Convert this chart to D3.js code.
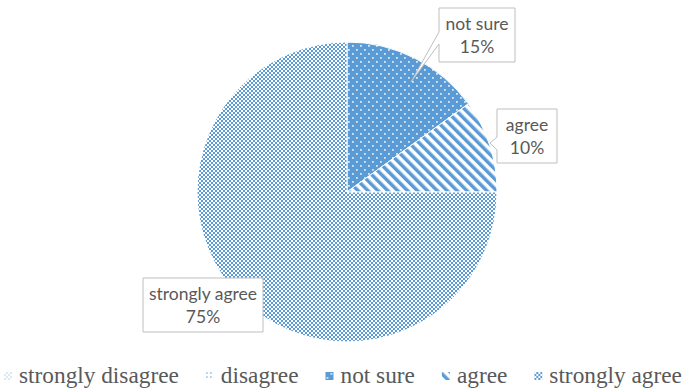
<!DOCTYPE html>
<html>
<head>
<meta charset="utf-8">
<script src="https://cdn.jsdelivr.net/npm/d3@7/dist/d3.min.js"></script>
<style>
  html, body { margin: 0; padding: 0; background: #fff; }
  svg { display: block; }
</style>
</head>
<body>
<svg id="chart" width="686" height="391"></svg>
<script>
// ---- data ----
const categories = ["strongly disagree", "disagree", "not sure", "agree", "strongly agree"];
const values = [0, 0, 15, 10, 75];

// ---- layout ----
const W = 686, H = 391;
const cx = 347, cy = 192, R = 150;
const blue = "#5B9BD5";
const textColor = "#595959";
const labelFont = "Lato, 'Open Sans', sans-serif";
const labelSize = 17.5;

const svg = d3.select("#chart");
const defs = svg.append("defs");

// patterns
function checker(id, color, size) {
  const p = defs.append("pattern").attr("id", id).attr("patternUnits", "userSpaceOnUse")
    .attr("width", size * 2).attr("height", size * 2);
  p.append("rect").attr("width", size * 2).attr("height", size * 2).attr("fill", color);
  p.append("rect").attr("x", 0).attr("y", 0).attr("width", size).attr("height", size).attr("fill", "#fff");
  p.append("rect").attr("x", size).attr("y", size).attr("width", size).attr("height", size).attr("fill", "#fff");
}
checker("pat-sa", blue, 2);
checker("pat-sd", "#dce7f3", 2);

const pd = defs.append("pattern").attr("id", "pat-dis").attr("patternUnits", "userSpaceOnUse")
  .attr("width", 4).attr("height", 4);
pd.append("rect").attr("width", 4).attr("height", 4).attr("fill", "#fff");
pd.append("rect").attr("width", 2).attr("height", 2).attr("fill", "#b9d2ec");

const pns = defs.append("pattern").attr("id", "pat-ns").attr("patternUnits", "userSpaceOnUse")
  .attr("width", 8).attr("height", 8);
pns.append("rect").attr("width", 8).attr("height", 8).attr("fill", blue);
pns.append("rect").attr("x", 1).attr("y", 1).attr("width", 1.8).attr("height", 1.8).attr("fill", "#d9e8f6");
pns.append("rect").attr("x", 5).attr("y", 5).attr("width", 1.8).attr("height", 1.8).attr("fill", "#d9e8f6");

const pag = defs.append("pattern").attr("id", "pat-ag").attr("patternUnits", "userSpaceOnUse")
  .attr("width", 7).attr("height", 7).attr("patternTransform", "rotate(-45)");
pag.append("rect").attr("width", 7).attr("height", 7).attr("fill", "#fff");
pag.append("rect").attr("width", 3.5).attr("height", 7).attr("fill", blue);

const fills = {
  "strongly disagree": "url(#pat-sd)",
  "disagree": "url(#pat-dis)",
  "not sure": "url(#pat-ns)",
  "agree": "url(#pat-ag)",
  "strongly agree": "url(#pat-sa)"
};

// pie
const data = categories.map((c, i) => ({ category: c, value: values[i] }));
const total = d3.sum(values);
const pie = d3.pie().value(d => d.value).sort(null).startAngle(0).endAngle(2 * Math.PI);
const arcs = pie(data);
const arc = d3.arc().innerRadius(0).outerRadius(R);

const g = svg.append("g").attr("transform", `translate(${cx},${cy})`);
g.selectAll("path.slice")
  .data(arcs.filter(d => d.value > 0))
  .join("path")
  .attr("class", "slice")
  .attr("d", arc)
  .attr("fill", d => fills[d.data.category])
  .attr("stroke", "#fff")
  .attr("stroke-width", 1);

// data labels (callouts) - box geometry in page coordinates
const labelLayout = {
  "not sure":       { x: 439, y: 8,   w: 76,  h: 54, wedge: { y1: 32, y2: 44, tip: [411, 82] } },
  "agree":          { x: 497, y: 109, w: 60,  h: 54, wedge: { y1: 137, y2: 150, tip: [490, 143] } },
  "strongly agree": { x: 143, y: 278, w: 120, h: 54, wedge: null }
};

const labels = svg.append("g");
arcs.filter(d => d.value > 0).forEach(d => {
  const L = labelLayout[d.data.category];
  if (!L) return;
  let p;
  if (L.wedge) {
    p = `M${L.x},${L.y}H${L.x + L.w}V${L.y + L.h}H${L.x}V${L.wedge.y2}L${L.wedge.tip[0]},${L.wedge.tip[1]}L${L.x},${L.wedge.y1}Z`;
  } else {
    p = `M${L.x},${L.y}H${L.x + L.w}V${L.y + L.h}H${L.x}Z`;
  }
  labels.append("path").attr("d", p).attr("fill", "#fff").attr("stroke", "#bfbfbf").attr("stroke-width", 1);
  const t = labels.append("text")
    .attr("x", L.x + L.w / 2)
    .attr("text-anchor", "middle")
    .attr("font-family", labelFont)
    .attr("font-size", labelSize)
    .attr("fill", textColor);
  t.append("tspan").attr("x", L.x + L.w / 2).attr("y", L.y + 22).text(d.data.category);
  t.append("tspan").attr("x", L.x + L.w / 2).attr("y", L.y + 45).text(d3.format(".0%")(d.value / total));
});

// legend
const legendFont = "'Liberation Serif', 'Times New Roman', serif";
const legendSize = 23.3;
const legendY = 383;
const leg = svg.append("g");
const items = categories.map(c => {
  const gi = leg.append("g");
  gi.append("rect").attr("width", 8).attr("height", 8).attr("y", legendY - 11)
    .attr("fill", fills[c]);
  const tx = gi.append("text").attr("x", 15).attr("y", legendY)
    .attr("font-family", legendFont).attr("font-size", legendSize).attr("fill", textColor).text(c);
  return { gi, w: 15 + tx.node().getComputedTextLength() };
});
const gap = 27;
const totalW = d3.sum(items, d => d.w) + gap * (items.length - 1);
let x0 = (W - totalW) / 2;
items.forEach(it => { it.gi.attr("transform", `translate(${x0},0)`); x0 += it.w + gap; });
</script>
</body>
</html>
